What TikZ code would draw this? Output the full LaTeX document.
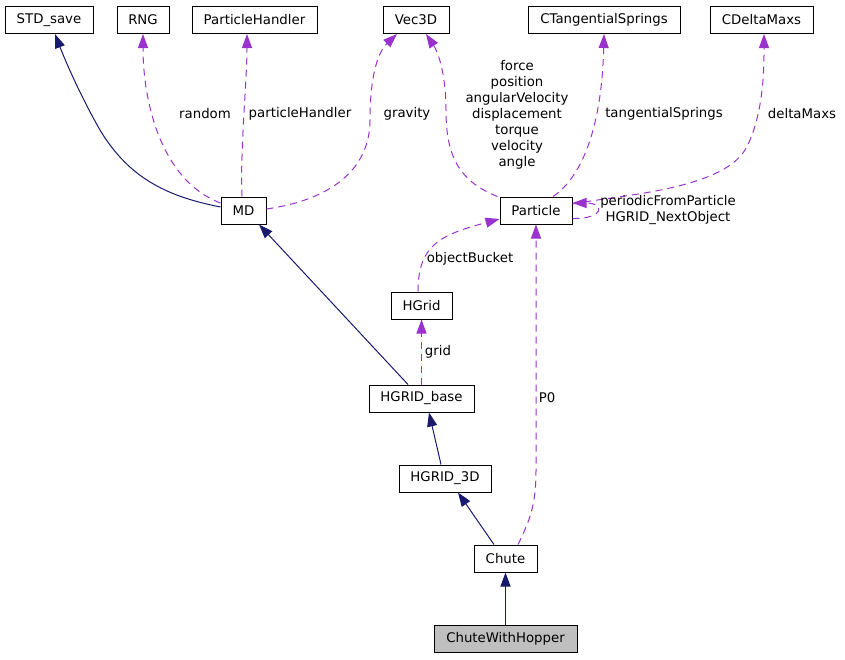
\documentclass[tikz,border=0pt]{standalone}
\usepackage{fontspec}
\setmainfont{DejaVu Sans}
\usetikzlibrary{arrows.meta,calc}
\definecolor{navyedge}{RGB}{25,25,112}
\definecolor{orchidedge}{RGB}{154,50,205}
\definecolor{boxgray}{RGB}{191,191,191}
\begin{document}
\begin{tikzpicture}[x=1pt,y=-1pt,
  every node/.style={font=\fontsize{13.3}{16}\selectfont},
  box/.style={draw=black, line width=1pt, fill=white, minimum height=27pt, inner sep=0pt},
  inherit/.style={draw=navyedge, line width=1pt, -{Triangle[length=14pt,width=10pt]}},
  usage/.style={draw=orchidedge, line width=1pt, dash pattern=on 7pt off 5pt, -{Triangle[length=14pt,width=10pt]}},
  lbl/.style={inner sep=0pt, align=center}]
\useasboundingbox (0,0) rectangle (845,659);
% nodes
\node[box, minimum width=88pt]  (STD)      at (49,20)      {STD\_save};
\node[box, minimum width=52pt]  (RNG)      at (143,20)     {RNG};
\node[box, minimum width=125pt] (PH)       at (254.5,20)   {ParticleHandler};
\node[box, minimum width=66pt]  (Vec)      at (416,20)     {Vec3D};
\node[box, minimum width=152pt] (CTS)      at (604,20)     {CTangentialSprings};
\node[box, minimum width=103pt] (CDM)      at (761.5,20)   {CDeltaMaxs};
\node[box, minimum width=45pt]  (MD)       at (243.5,210.5) {MD};
\node[box, minimum width=72pt]  (Particle) at (536,210.5)  {Particle};
\node[box, minimum width=61pt]  (HGrid)    at (421.5,305.5) {HGrid};
\node[box, minimum width=105pt] (HB)       at (421.5,398.5) {HGRID\_base};
\node[box, minimum width=92pt]  (H3)       at (445,478.5)  {HGRID\_3D};
\node[box, minimum width=63pt]  (Chute)    at (505.5,558.5) {Chute};
\node[box, minimum width=143pt, fill=boxgray] (CWH) at (505.5,638.5) {ChuteWithHopper};
% edges
\draw[inherit] ($(MD.west)+(0,-3.5)$) .. controls (170,197) and (130,180) .. (100,130) .. controls (80,95) and (65,60) .. ($(STD.south)+(6,0)$);
\draw[usage] ($(MD.west)+(0,-7.5)$) .. controls (160,180) and (143,100) .. (RNG.south);
\draw[usage] ($(MD.north)+(-1.5,0)$) .. controls (240,150) and (247,80) .. ($(PH.south)+(-7.5,0)$);
\draw[usage] ($(MD.east)+(0,-1.5)$) .. controls (330,200) and (370,170) .. (370,120) .. controls (370,70) and (380,50) .. ($(Vec.south)+(-19,0)$);
\draw[usage] ($(Particle.north west)+(-2,0)$) .. controls (455,180) and (446,150) .. (446,110) .. controls (446,80) and (440,55) .. ($(Vec.south)+(10,0)$);
\draw[usage] ($(Particle.north)+(17,0)$) .. controls (585,175) and (602,120) .. (CTS.south);
\draw[usage] ($(Particle.east)+(0,-6.5)$) .. controls (620,195) and (720,190) .. (745,150) .. controls (765,115) and (764,60) .. ($(CDM.south)+(2.5,0)$);
\draw[usage] ($(Particle.east)+(0,8)$) .. controls (605,219) and (605,203) .. ($(Particle.east)+(0,-7.5)$);
\draw[usage] ($(HGrid.north)+(-3.5,0)$) .. controls (418,245) and (440,235) .. ($(Particle.west)+(0,8.5)$);
\draw[inherit] ($(HB.north)+(-13.5,0)$) -- ($(MD.south)+(15.5,0)$);
\draw[usage] (HB.north) -- (HGrid.south);
\draw[inherit] ($(H3.north)+(-4,0)$) -- ($(HB.south)+(7.5,0)$);
\draw[inherit] ($(Chute.north)+(-11.5,0)$) -- ($(H3.south)+(13,0)$);
\draw[usage] ($(Chute.north)+(12.5,0)$) .. controls (530,520) and (536,505) .. (536,470) -- (Particle.south);
\draw[inherit] (CWH.north) -- (Chute.south);
% labels
\node[lbl] (lrandom) at (205,114) {random};
\node[lbl] (lph)     at (300,114) {particleHandler};
\node[lbl] (lgrav)   at (407,114) {gravity};
\node[lbl] (lvec)    at (517,115) {force\\position\\angularVelocity\\displacement\\torque\\velocity\\angle};
\node[lbl] (lts)     at (664,114) {tangentialSprings};
\node[lbl] (ldm)     at (802,114) {deltaMaxs};
\node[lbl] (lself)   at (668,210) {periodicFromParticle\\HGRID\_NextObject};
\node[lbl] (lob)     at (470,259) {objectBucket};
\node[lbl] (lgrid)   at (438,352) {grid};
\node[lbl] (lp0)     at (547,398) {P0};
\end{tikzpicture}
\end{document}
